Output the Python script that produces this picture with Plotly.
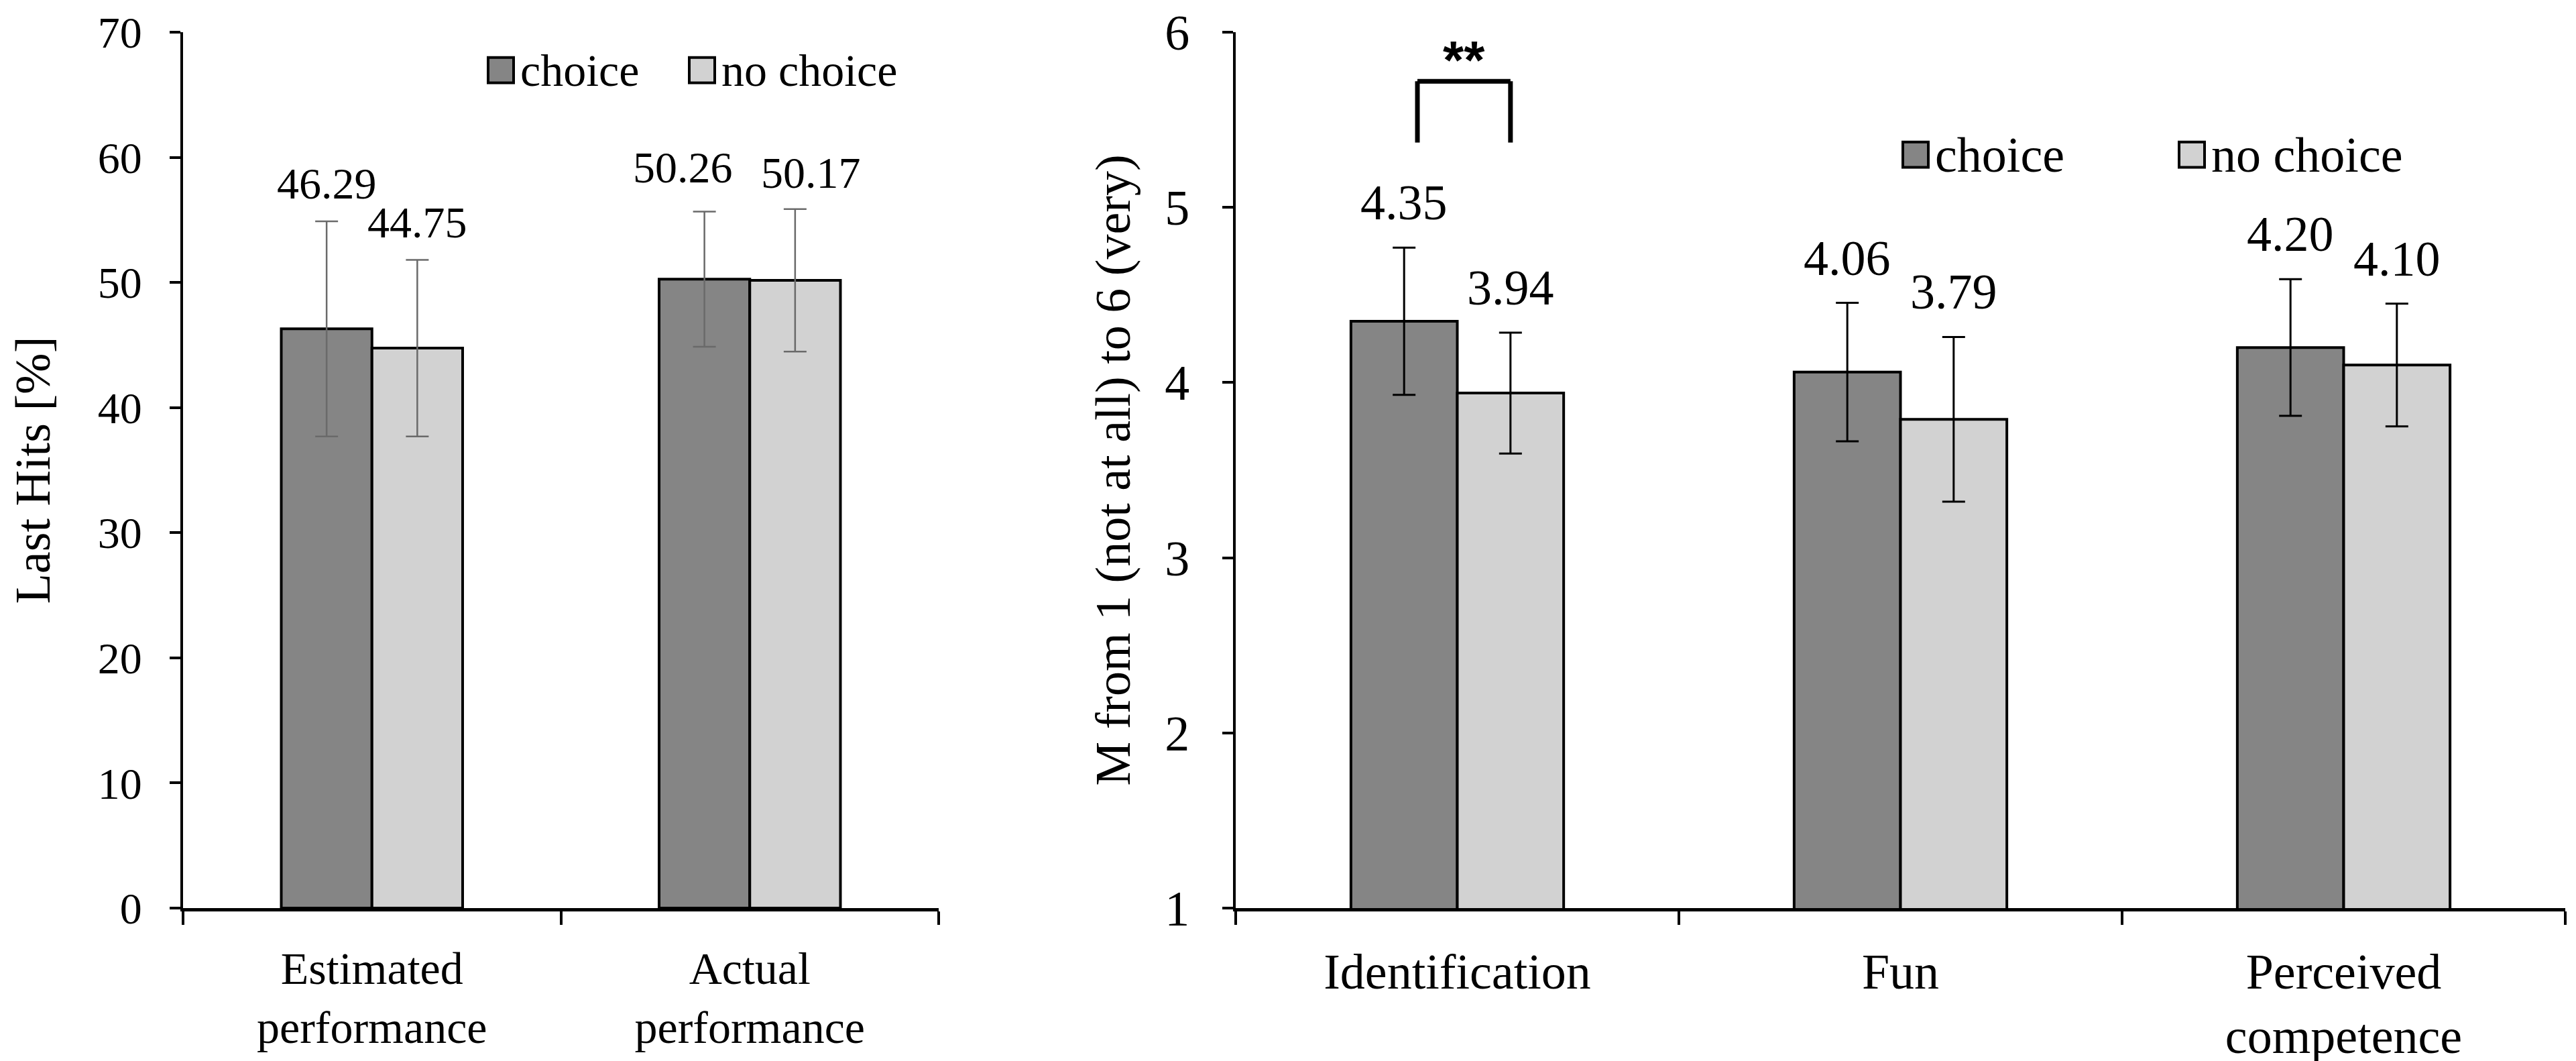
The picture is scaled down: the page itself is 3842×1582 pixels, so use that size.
import plotly.graph_objects as go

W, H = 3842, 1582

groups = ["choice", "no choice"]
colors = ["#858585", "#d2d2d2"]

# left panel: performance (%)
perf_cats = ["Estimated<br>performance", "Actual<br>performance"]
perf_choice = [46.29, 50.26]
perf_nochoice = [44.75, 50.17]
perf_choice_err = [8.6, 5.4]
perf_nochoice_err = [7.05, 5.7]

# right panel: ratings 1-6
rate_cats = ["Identification", "Fun", "Perceived<br>competence"]
rate_choice = [4.35, 4.06, 4.20]
rate_nochoice = [3.94, 3.79, 4.10]
rate_choice_err = [0.42, 0.395, 0.39]
rate_nochoice_err = [0.345, 0.47, 0.35]

# significance bracket
sig_cat = "Identification"
sig_text = "**"
sig_low, sig_high = 5.37, 5.72

bargap = 0.52
half = (1 - bargap) / 4
font = "Liberation Serif"

# small pixel nudges for crowded value labels (panel, group, index) -> (dx, dy)
label_nudge = {("x", 0, 1): (-32, 10), ("x", 1, 1): (24, -2)}

fig = go.Figure()
annos = []
shapes = []

panels = [
    ("x", "y", perf_cats, [perf_choice, perf_nochoice], [perf_choice_err, perf_nochoice_err],
     "#6a6a6a", 2.5, 66, 18),
    ("x2", "y2", rate_cats, [rate_choice, rate_nochoice], [rate_choice_err, rate_nochoice_err],
     "black", 3, 74, 24),
]

for xa, ya, cats, vals, errs, ecol, eth, fsize, yshift in panels:
    for k in range(2):
        fig.add_trace(go.Bar(
            x=cats, y=vals[k], name=groups[k], xaxis=xa, yaxis=ya, showlegend=False,
            marker=dict(color=colors[k], line=dict(color="black", width=4)),
            error_y=dict(type="data", array=errs[k], color=ecol, thickness=eth, width=17),
        ))
        off = -half if k == 0 else half
        for i, v in enumerate(vals[k]):
            dx, dy = label_nudge.get((xa, k, i), (0, 0))
            annos.append(dict(
                x=i + off, y=v + errs[k][i], xref=xa, yref=ya, text="%.2f" % v,
                showarrow=False, yanchor="bottom", yshift=yshift + dy, xshift=dx,
                font=dict(size=fsize, family=font, color="black"),
            ))

# bracket
ci = rate_cats.index(sig_cat)
bl, br = ci - half * 0.75, ci + half
for x0, y0, x1, y1 in [(bl, sig_low, bl, sig_high), (bl, sig_high, br, sig_high),
                       (br, sig_high, br, sig_low)]:
    shapes.append(dict(type="line", xref="x2", yref="y2", x0=x0, y0=y0, x1=x1, y1=y1,
                       line=dict(color="black", width=7)))
annos.append(dict(x=(bl + br) / 2, y=sig_high, xref="x2", yref="y2", text="<b>%s</b>" % sig_text,
                  showarrow=False, yanchor="middle", yshift=32,
                  font=dict(size=80, family="Liberation Sans", color="black")))

# manual legends (px positions)
top, bottom = 30, 1346
def py(v):
    return (bottom - v) / (bottom - top)

for xs, yc, fsize in [([720, 1020], 87, 68), ([2830, 3242], 214, 74)]:
    for k in range(2):
        shapes.append(dict(type="rect", xref="paper", yref="paper",
                           x0=xs[k] / W, x1=(xs[k] + 38) / W, y0=py(yc + 19), y1=py(yc - 19),
                           fillcolor=colors[k], line=dict(color="black", width=4)))
        annos.append(dict(x=(xs[k] + 46) / W, y=py(yc), xref="paper", yref="paper",
                          text=groups[k], showarrow=False, xanchor="left", yanchor="middle",
                          font=dict(size=fsize, family=font, color="black")))

xcommon = dict(showline=True, linecolor="black", linewidth=5, ticks="outside", tickson="boundaries",
               ticklen=20, tickwidth=4, tickcolor="black", showgrid=False, ticklabelstandoff=26)
ycommon = dict(showline=True, linecolor="black", linewidth=4, ticks="outside", ticklen=16,
               tickwidth=4, tickcolor="black", showgrid=False, zeroline=False,
               ticklabeloverflow="allow")

fig.update_layout(
    width=W, height=H,
    margin=dict(l=0, r=0, t=top, b=H - bottom),
    paper_bgcolor="white", plot_bgcolor="white",
    barmode="group", bargap=bargap,
    font=dict(family=font, color="black", size=68),
    xaxis=dict(domain=[265 / W, 1392 / W], anchor="y", tickfont=dict(size=68), **xcommon),
    yaxis=dict(domain=[0, 1], anchor="x", range=[0, 70], dtick=10, tickfont=dict(size=66),
               ticklabelstandoff=28,
               title=dict(text="Last Hits [%]", font=dict(size=74), standoff=60), **ycommon),
    xaxis2=dict(domain=[1835 / W, 3818 / W], anchor="y2", tickfont=dict(size=74), **xcommon),
    yaxis2=dict(domain=[0, 1], anchor="x2", range=[1, 6], dtick=1, tickfont=dict(size=74),
                ticklabelstandoff=34,
                title=dict(text="M from 1 (not at all) to 6 (very)", font=dict(size=74), standoff=28),
                **ycommon),
    annotations=annos,
    shapes=shapes,
)

fig.write_html("out.html")
